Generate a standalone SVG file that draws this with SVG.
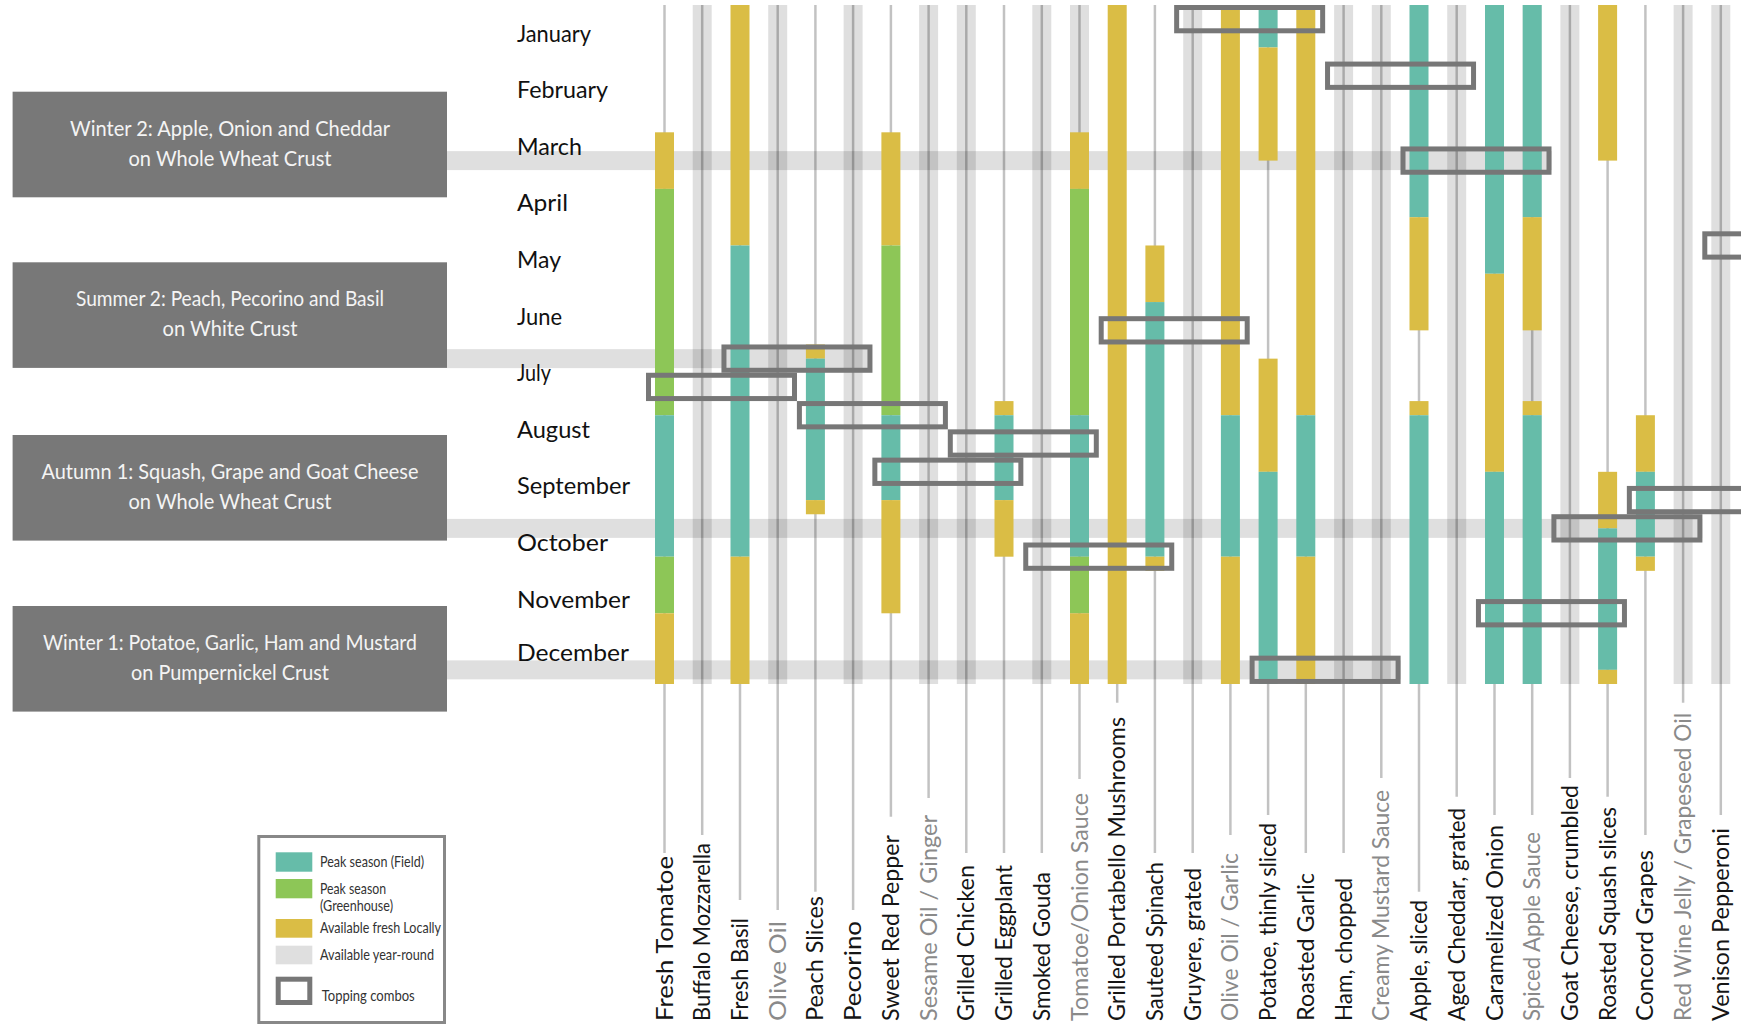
<svg xmlns="http://www.w3.org/2000/svg" width="1754" height="1026" viewBox="0 0 1754 1026">
<style>
.y{fill:#dabd45}.g{fill:#8dc657}.t{fill:#66bca9}
.s{fill:#000;fill-opacity:.125}
.ln{stroke:#000;stroke-opacity:.24;stroke-width:2.5;fill:none}
.box{fill:none;stroke:#777;stroke-width:5}
.lab{font-family:Lato,"Liberation Sans",sans-serif;font-size:24px;fill:#151515}
.gr{fill:#8a8a8a}
.mon{font-family:Lato,"Liberation Sans",sans-serif;font-size:24px;fill:#111}
.nb{fill:#787878}
.nt{font-family:Lato,"Liberation Sans",sans-serif;font-size:21px;fill:#f4f4f4;text-anchor:middle}
.lg{font-family:Lato,"Liberation Sans",sans-serif;font-size:15px;fill:#333}
</style>
<defs>
<clipPath id="clip"><rect x="0" y="0" width="1741" height="1026"/></clipPath>
</defs>
<rect width="1754" height="1026" fill="#fff"/>

<g id="recipe-winter2">
<rect class="nb" x="12.6" y="91.7" width="434.4" height="105.6"/>
<text class="nt" x="230" y="135.7" textLength="320" lengthAdjust="spacingAndGlyphs">Winter 2:  Apple, Onion and Cheddar</text>
<text class="nt" x="230" y="165.7" textLength="203" lengthAdjust="spacingAndGlyphs">on Whole Wheat Crust</text>
</g>
<g id="recipe-summer2">
<rect class="nb" x="12.6" y="262.3" width="434.4" height="105.6"/>
<text class="nt" x="230" y="306.3" textLength="308" lengthAdjust="spacingAndGlyphs">Summer 2: Peach, Pecorino and Basil</text>
<text class="nt" x="230" y="336.3" textLength="135" lengthAdjust="spacingAndGlyphs">on White Crust</text>
</g>
<g id="recipe-autumn1">
<rect class="nb" x="12.6" y="435" width="434.4" height="105.6"/>
<text class="nt" x="230" y="479" textLength="377" lengthAdjust="spacingAndGlyphs">Autumn 1: Squash, Grape and Goat Cheese</text>
<text class="nt" x="230" y="509" textLength="203" lengthAdjust="spacingAndGlyphs">on Whole Wheat Crust</text>
</g>
<g id="recipe-winter1">
<rect class="nb" x="12.6" y="606" width="434.4" height="105.6"/>
<text class="nt" x="230" y="650" textLength="374" lengthAdjust="spacingAndGlyphs">Winter 1: Potatoe, Garlic, Ham and Mustard</text>
<text class="nt" x="230" y="680" textLength="198" lengthAdjust="spacingAndGlyphs">on Pumpernickel Crust</text>
</g>

<g id="connectors">
<rect class="s" x="447" y="151.1" width="1104.7" height="19"/>
<rect class="s" x="447" y="349.15" width="425" height="19"/>
<rect class="s" x="447" y="518.9" width="1255.3" height="19"/>
<rect class="s" x="447" y="660.36" width="953.7" height="19"/>
</g>

<g id="months">
<text class="mon" x="517" y="41.6" textLength="74" lengthAdjust="spacingAndGlyphs">January</text>
<text class="mon" x="517" y="98.2" textLength="91" lengthAdjust="spacingAndGlyphs">February</text>
<text class="mon" x="517" y="154.8" textLength="65" lengthAdjust="spacingAndGlyphs">March</text>
<text class="mon" x="517" y="211.4" textLength="51" lengthAdjust="spacingAndGlyphs">April</text>
<text class="mon" x="517" y="268" textLength="44" lengthAdjust="spacingAndGlyphs">May</text>
<text class="mon" x="517" y="324.6" textLength="45" lengthAdjust="spacingAndGlyphs">June</text>
<text class="mon" x="517" y="381.2" textLength="34" lengthAdjust="spacingAndGlyphs">July</text>
<text class="mon" x="517" y="437.8" textLength="73" lengthAdjust="spacingAndGlyphs">August</text>
<text class="mon" x="517" y="494.4" textLength="113" lengthAdjust="spacingAndGlyphs">September</text>
<text class="mon" x="517" y="551" textLength="91" lengthAdjust="spacingAndGlyphs">October</text>
<text class="mon" x="517" y="607.6" textLength="113" lengthAdjust="spacingAndGlyphs">November</text>
<text class="mon" x="517" y="661" textLength="112" lengthAdjust="spacingAndGlyphs">December</text>
</g>

<g id="col-fresh-tomatoe">
<line class="ln" x1="664.5" y1="5" x2="664.5" y2="853"/>
<rect class="y" x="655" y="132.31" width="19" height="56.59"/>
<rect class="g" x="655" y="188.9" width="19" height="226.33"/>
<rect class="t" x="655" y="415.23" width="19" height="141.46"/>
<rect class="g" x="655" y="556.69" width="19" height="56.59"/>
<rect class="y" x="655" y="613.28" width="19" height="70.72"/>
<text class="lab" transform="translate(672.5,1021) rotate(-90)" textLength="165" lengthAdjust="spacingAndGlyphs">Fresh Tomatoe</text>
</g>
<g id="col-buffalo-mozzarella">
<rect class="s" x="692.7" y="5" width="19" height="679"/>
<line class="ln" x1="702.2" y1="5" x2="702.2" y2="835"/>
<text class="lab" transform="translate(710.2,1021) rotate(-90)" textLength="178" lengthAdjust="spacingAndGlyphs">Buffalo Mozzarella</text>
</g>
<g id="col-fresh-basil">
<line class="ln" x1="740" y1="5" x2="740" y2="900"/>
<rect class="y" x="730.5" y="5" width="19" height="240.48"/>
<rect class="t" x="730.5" y="245.48" width="19" height="311.21"/>
<rect class="y" x="730.5" y="556.69" width="19" height="127.31"/>
<text class="lab" transform="translate(748,1021) rotate(-90)" textLength="103" lengthAdjust="spacingAndGlyphs">Fresh Basil</text>
</g>
<g id="col-olive-oil">
<rect class="s" x="768.2" y="5" width="19" height="679"/>
<line class="ln" x1="777.7" y1="5" x2="777.7" y2="910"/>
<text class="lab gr" transform="translate(785.7,1021) rotate(-90)" textLength="100" lengthAdjust="spacingAndGlyphs">Olive Oil</text>
</g>
<g id="col-peach-slices">
<line class="ln" x1="815.4" y1="5" x2="815.4" y2="891.7"/>
<rect class="y" x="805.9" y="344.5" width="19" height="14.15"/>
<rect class="t" x="805.9" y="358.65" width="19" height="141.46"/>
<rect class="y" x="805.9" y="500.11" width="19" height="14.15"/>
<text class="lab" transform="translate(823.4,1021) rotate(-90)" textLength="125" lengthAdjust="spacingAndGlyphs">Peach Slices</text>
</g>
<g id="col-pecorino">
<rect class="s" x="843.6" y="5" width="19" height="679"/>
<line class="ln" x1="853.1" y1="5" x2="853.1" y2="910"/>
<text class="lab" transform="translate(861.1,1021) rotate(-90)" textLength="100" lengthAdjust="spacingAndGlyphs">Pecorino</text>
</g>
<g id="col-sweet-red-pepper">
<line class="ln" x1="890.9" y1="5" x2="890.9" y2="816.7"/>
<rect class="y" x="881.4" y="132.31" width="19" height="113.17"/>
<rect class="g" x="881.4" y="245.48" width="19" height="169.75"/>
<rect class="t" x="881.4" y="415.23" width="19" height="84.88"/>
<rect class="y" x="881.4" y="500.11" width="19" height="113.17"/>
<text class="lab" transform="translate(898.9,1021) rotate(-90)" textLength="186" lengthAdjust="spacingAndGlyphs">Sweet Red Pepper</text>
</g>
<g id="col-sesame-oil-ginger">
<rect class="s" x="919.1" y="5" width="19" height="679"/>
<line class="ln" x1="928.6" y1="5" x2="928.6" y2="798"/>
<text class="lab gr" transform="translate(936.6,1021) rotate(-90)" textLength="206" lengthAdjust="spacingAndGlyphs">Sesame Oil  / Ginger</text>
</g>
<g id="col-grilled-chicken">
<rect class="s" x="956.8" y="5" width="19" height="679"/>
<line class="ln" x1="966.3" y1="5" x2="966.3" y2="853"/>
<text class="lab" transform="translate(974.3,1021) rotate(-90)" textLength="156" lengthAdjust="spacingAndGlyphs">Grilled Chicken</text>
</g>
<g id="col-grilled-eggplant">
<line class="ln" x1="1004" y1="5" x2="1004" y2="853"/>
<rect class="y" x="994.5" y="401.09" width="19" height="14.14"/>
<rect class="t" x="994.5" y="415.23" width="19" height="84.88"/>
<rect class="y" x="994.5" y="500.11" width="19" height="56.58"/>
<text class="lab" transform="translate(1012,1021) rotate(-90)" textLength="156" lengthAdjust="spacingAndGlyphs">Grilled Eggplant</text>
</g>
<g id="col-smoked-gouda">
<rect class="s" x="1032.3" y="5" width="19" height="679"/>
<line class="ln" x1="1041.8" y1="5" x2="1041.8" y2="853"/>
<text class="lab" transform="translate(1049.8,1021) rotate(-90)" textLength="149" lengthAdjust="spacingAndGlyphs">Smoked Gouda</text>
</g>
<g id="col-tomatoe-onion-sauce">
<rect class="s" x="1070" y="5" width="19" height="679"/>
<line class="ln" x1="1079.5" y1="5" x2="1079.5" y2="779"/>
<rect class="y" x="1070" y="132.31" width="19" height="56.59"/>
<rect class="g" x="1070" y="188.9" width="19" height="226.33"/>
<rect class="t" x="1070" y="415.23" width="19" height="141.46"/>
<rect class="g" x="1070" y="556.69" width="19" height="56.59"/>
<rect class="y" x="1070" y="613.28" width="19" height="70.72"/>
<text class="lab gr" transform="translate(1087.5,1021) rotate(-90)" textLength="228" lengthAdjust="spacingAndGlyphs">Tomatoe/Onion Sauce</text>
</g>
<g id="col-grilled-portabello-mushrooms">
<line class="ln" x1="1117.2" y1="5" x2="1117.2" y2="702.7"/>
<rect class="y" x="1107.7" y="5" width="19" height="679"/>
<text class="lab" transform="translate(1125.2,1021) rotate(-90)" textLength="304" lengthAdjust="spacingAndGlyphs">Grilled Portabello Mushrooms</text>
</g>
<g id="col-sauteed-spinach">
<line class="ln" x1="1154.9" y1="5" x2="1154.9" y2="853"/>
<rect class="y" x="1145.4" y="245.48" width="19" height="56.59"/>
<rect class="t" x="1145.4" y="302.07" width="19" height="254.62"/>
<rect class="y" x="1145.4" y="556.69" width="19" height="14.15"/>
<text class="lab" transform="translate(1162.9,1021) rotate(-90)" textLength="159" lengthAdjust="spacingAndGlyphs">Sauteed Spinach</text>
</g>
<g id="col-gruyere-grated">
<rect class="s" x="1183.2" y="5" width="19" height="679"/>
<line class="ln" x1="1192.7" y1="5" x2="1192.7" y2="853"/>
<text class="lab" transform="translate(1200.7,1021) rotate(-90)" textLength="153" lengthAdjust="spacingAndGlyphs">Gruyere, grated</text>
</g>
<g id="col-olive-oil-garlic">
<line class="ln" x1="1230.4" y1="5" x2="1230.4" y2="835"/>
<rect class="y" x="1220.9" y="5" width="19" height="410.23"/>
<rect class="t" x="1220.9" y="415.23" width="19" height="141.46"/>
<rect class="y" x="1220.9" y="556.69" width="19" height="127.31"/>
<text class="lab gr" transform="translate(1238.4,1021) rotate(-90)" textLength="168" lengthAdjust="spacingAndGlyphs">Olive Oil / Garlic</text>
</g>
<g id="col-potatoe-thinly-sliced">
<line class="ln" x1="1268.1" y1="5" x2="1268.1" y2="815"/>
<rect class="t" x="1258.6" y="5" width="19" height="42.44"/>
<rect class="y" x="1258.6" y="47.44" width="19" height="113.16"/>
<rect class="y" x="1258.6" y="358.65" width="19" height="113.17"/>
<rect class="t" x="1258.6" y="471.82" width="19" height="212.18"/>
<text class="lab" transform="translate(1276.1,1021) rotate(-90)" textLength="198" lengthAdjust="spacingAndGlyphs">Potatoe, thinly sliced</text>
</g>
<g id="col-roasted-garlic">
<line class="ln" x1="1305.8" y1="5" x2="1305.8" y2="853"/>
<rect class="y" x="1296.3" y="5" width="19" height="410.23"/>
<rect class="t" x="1296.3" y="415.23" width="19" height="141.46"/>
<rect class="y" x="1296.3" y="556.69" width="19" height="127.31"/>
<text class="lab" transform="translate(1313.8,1021) rotate(-90)" textLength="148" lengthAdjust="spacingAndGlyphs">Roasted Garlic</text>
</g>
<g id="col-ham-chopped">
<rect class="s" x="1334.1" y="5" width="19" height="679"/>
<line class="ln" x1="1343.6" y1="5" x2="1343.6" y2="853"/>
<text class="lab" transform="translate(1351.6,1021) rotate(-90)" textLength="143" lengthAdjust="spacingAndGlyphs">Ham, chopped</text>
</g>
<g id="col-creamy-mustard-sauce">
<rect class="s" x="1371.8" y="5" width="19" height="679"/>
<line class="ln" x1="1381.3" y1="5" x2="1381.3" y2="778"/>
<text class="lab gr" transform="translate(1389.3,1021) rotate(-90)" textLength="231" lengthAdjust="spacingAndGlyphs">Creamy Mustard Sauce</text>
</g>
<g id="col-apple-sliced">
<line class="ln" x1="1419" y1="5" x2="1419" y2="891.7"/>
<rect class="t" x="1409.5" y="5" width="19" height="212.19"/>
<rect class="y" x="1409.5" y="217.19" width="19" height="113.17"/>
<rect class="y" x="1409.5" y="401.09" width="19" height="14.14"/>
<rect class="t" x="1409.5" y="415.23" width="19" height="268.77"/>
<text class="lab" transform="translate(1427,1021) rotate(-90)" textLength="121" lengthAdjust="spacingAndGlyphs">Apple, sliced</text>
</g>
<g id="col-aged-cheddar-grated">
<rect class="s" x="1447.2" y="5" width="19" height="679"/>
<line class="ln" x1="1456.7" y1="5" x2="1456.7" y2="796.7"/>
<text class="lab" transform="translate(1464.7,1021) rotate(-90)" textLength="213" lengthAdjust="spacingAndGlyphs">Aged Cheddar, grated</text>
</g>
<g id="col-caramelized-onion">
<line class="ln" x1="1494.5" y1="5" x2="1494.5" y2="815"/>
<rect class="t" x="1485" y="5" width="19" height="268.77"/>
<rect class="y" x="1485" y="273.77" width="19" height="198.05"/>
<rect class="t" x="1485" y="471.82" width="19" height="212.18"/>
<text class="lab" transform="translate(1502.5,1021) rotate(-90)" textLength="196" lengthAdjust="spacingAndGlyphs">Caramelized Onion</text>
</g>
<g id="col-spiced-apple-sauce">
<rect class="s" x="1522.7" y="5" width="19" height="679"/>
<line class="ln" x1="1532.2" y1="5" x2="1532.2" y2="815"/>
<rect class="t" x="1522.7" y="5" width="19" height="212.19"/>
<rect class="y" x="1522.7" y="217.19" width="19" height="113.17"/>
<rect class="y" x="1522.7" y="401.09" width="19" height="14.14"/>
<rect class="t" x="1522.7" y="415.23" width="19" height="268.77"/>
<text class="lab gr" transform="translate(1540.2,1021) rotate(-90)" textLength="189" lengthAdjust="spacingAndGlyphs">Spiced Apple Sauce</text>
</g>
<g id="col-goat-cheese-crumbled">
<rect class="s" x="1560.4" y="5" width="19" height="679"/>
<line class="ln" x1="1569.9" y1="5" x2="1569.9" y2="778"/>
<text class="lab" transform="translate(1577.9,1021) rotate(-90)" textLength="236" lengthAdjust="spacingAndGlyphs">Goat Cheese, crumbled</text>
</g>
<g id="col-roasted-squash-slices">
<line class="ln" x1="1607.6" y1="5" x2="1607.6" y2="796.7"/>
<rect class="y" x="1598.1" y="5" width="19" height="155.6"/>
<rect class="y" x="1598.1" y="471.82" width="19" height="56.58"/>
<rect class="t" x="1598.1" y="528.4" width="19" height="141.46"/>
<rect class="y" x="1598.1" y="669.86" width="19" height="14.14"/>
<text class="lab" transform="translate(1615.6,1021) rotate(-90)" textLength="214" lengthAdjust="spacingAndGlyphs">Roasted Squash slices</text>
</g>
<g id="col-concord-grapes">
<line class="ln" x1="1645.4" y1="5" x2="1645.4" y2="835"/>
<rect class="y" x="1635.9" y="415.23" width="19" height="56.59"/>
<rect class="t" x="1635.9" y="471.82" width="19" height="84.87"/>
<rect class="y" x="1635.9" y="556.69" width="19" height="14.15"/>
<text class="lab" transform="translate(1653.4,1021) rotate(-90)" textLength="171" lengthAdjust="spacingAndGlyphs">Concord Grapes</text>
</g>
<g id="col-red-wine-jelly-grapeseed-oil">
<rect class="s" x="1673.6" y="5" width="19" height="679"/>
<line class="ln" x1="1683.1" y1="5" x2="1683.1" y2="702.7"/>
<text class="lab gr" transform="translate(1691.1,1021) rotate(-90)" textLength="308" lengthAdjust="spacingAndGlyphs">Red Wine Jelly / Grapeseed Oil</text>
</g>
<g id="col-venison-pepperoni">
<rect class="s" x="1711.3" y="5" width="19" height="679"/>
<line class="ln" x1="1720.8" y1="5" x2="1720.8" y2="815"/>
<text class="lab" transform="translate(1728.8,1021) rotate(-90)" textLength="193" lengthAdjust="spacingAndGlyphs">Venison  Pepperoni</text>
</g>

<g id="combos" clip-path="url(#clip)">
<rect class="box" x="1176.65" y="7.5" width="146" height="23.29"/>
<rect class="box" x="1327.55" y="64.08" width="146" height="23.29"/>
<rect class="box" x="1403" y="148.95" width="146" height="23.29"/>
<rect class="box" x="1704.8" y="233.82" width="146" height="23.29"/>
<rect class="box" x="1101.2" y="318.69" width="146" height="23.29"/>
<rect class="box" x="723.95" y="346.98" width="146" height="23.29"/>
<rect class="box" x="648.5" y="375.27" width="146" height="23.29"/>
<rect class="box" x="799.4" y="403.56" width="146" height="23.29"/>
<rect class="box" x="950.3" y="431.85" width="146" height="23.29"/>
<rect class="box" x="874.85" y="460.14" width="146" height="23.29"/>
<rect class="box" x="1629.35" y="488.43" width="146" height="23.29"/>
<rect class="box" x="1553.9" y="516.72" width="146" height="23.29"/>
<rect class="box" x="1025.75" y="545.01" width="146" height="23.29"/>
<rect class="box" x="1478.45" y="601.59" width="146" height="23.29"/>
<rect class="box" x="1252.1" y="658.17" width="146" height="23.29"/>
</g>

<g id="legend">
<rect x="258.8" y="836.5" width="185.7" height="186" fill="none" stroke="#888" stroke-width="3"/>
<rect class="t" x="275.7" y="852.3" width="36.6" height="19.4"/>
<rect class="g" x="275.7" y="879" width="36.6" height="19.3"/>
<rect class="y" x="275.7" y="919" width="36.6" height="18.7"/>
<rect x="275.7" y="945.7" width="36.6" height="18.6" fill="#dfdfdf"/>
<rect class="box" x="278.2" y="979.2" width="31.6" height="23.3"/>
<text class="lg" x="320" y="867" textLength="104" lengthAdjust="spacingAndGlyphs">Peak season (Field)</text>
<text class="lg" x="320" y="894" textLength="66" lengthAdjust="spacingAndGlyphs">Peak season</text>
<text class="lg" x="320" y="910.5" textLength="73" lengthAdjust="spacingAndGlyphs">(Greenhouse)</text>
<text class="lg" x="320" y="933" textLength="121" lengthAdjust="spacingAndGlyphs">Available fresh Locally</text>
<text class="lg" x="320" y="959.5" textLength="114" lengthAdjust="spacingAndGlyphs">Available year-round</text>
<text class="lg" x="321.7" y="1001" textLength="93" lengthAdjust="spacingAndGlyphs">Topping combos</text>
</g>
</svg>
